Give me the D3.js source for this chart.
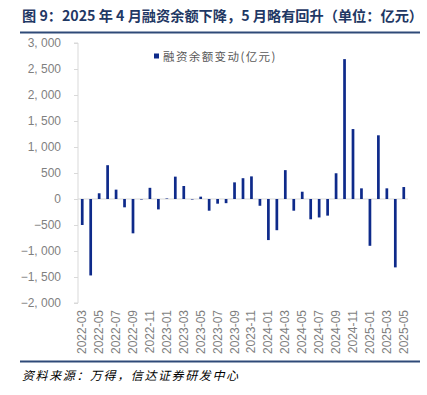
<!DOCTYPE html>
<html><head><meta charset="utf-8">
<script src="https://cdn.jsdelivr.net/npm/d3@7"></script>
<style>
body{margin:0;background:#fff;}
svg{display:block;}
</style></head>
<body>
<svg id="c" width="427" height="395"></svg>
<script>
const months = ["2022-03","2022-04","2022-05","2022-06","2022-07","2022-08","2022-09","2022-10","2022-11","2022-12",
"2023-01","2023-02","2023-03","2023-04","2023-05","2023-06","2023-07","2023-08","2023-09","2023-10","2023-11","2023-12",
"2024-01","2024-02","2024-03","2024-04","2024-05","2024-06","2024-07","2024-08","2024-09","2024-10","2024-11","2024-12",
"2025-01","2025-02","2025-03","2025-04","2025-05"];
const values = [-500,-1470,110,650,180,-160,-660,-10,215,-200,
10,430,250,-10,45,-225,-90,-80,320,400,435,-130,
-790,-600,555,-225,140,-390,-355,-320,495,2690,1345,205,
-900,1225,205,-1315,230];
const yTicks = [-2000,-1500,-1000,-500,0,500,1000,1500,2000,2500,3000];
const xTickLabels = months.filter((m,i)=>i%2===0);
const title = "图 9：2025 年 4 月融资余额下降，5 月略有回升（单位：亿元）";
const legendLabel = "融资余额变动(亿元)";
const source = "资料来源：万得，信达证券研发中心";

const svg = d3.select("#c");
const L = 78, R = 408, T = 43, B = 303;
const x = d3.scaleBand().domain(months).range([L, R]).paddingInner(0.68).paddingOuter(0.34);
const y = d3.scaleLinear().domain([-2000, 3000]).range([B, T]);

// title
svg.append("text").attr("x", 22).attr("y", 21)
  .attr("font-family", "'Noto Sans CJK SC', sans-serif").attr("font-weight", "bold")
  .attr("font-size", 14.2).attr("fill", "#1F3864").text(title);
svg.append("line").attr("x1", 20).attr("x2", 420).attr("y1", 32.5).attr("y2", 32.5)
  .attr("stroke", "#2F4A78").attr("stroke-width", 2);

// zero line
svg.append("line").attr("x1", L).attr("x2", R).attr("y1", y(0)).attr("y2", y(0))
  .attr("stroke", "#D9D9D9").attr("stroke-width", 1);

// y axis
const fmt = d3.format(",");
const yAxis = d3.axisLeft(y).tickValues(yTicks).tickSize(4).tickPadding(13)
  .tickFormat(d => (d < 0 ? "\u2212" : "") + fmt(Math.abs(d)).replace(",", ", "));
const gy = svg.append("g").attr("transform", `translate(${L},0)`).call(yAxis);
gy.select(".domain").attr("stroke", "#D9D9D9").attr("d", `M-4,${T}H0V${B}H-4`);
gy.selectAll(".tick line").attr("stroke", "#D9D9D9");
gy.selectAll("text").attr("font-family", "'Liberation Sans', Arial, sans-serif").attr("font-size", 12).attr("fill", "#7F7F7F");

// bars
svg.append("g").selectAll("rect").data(values).join("rect")
  .attr("x", (d,i) => x(months[i]))
  .attr("width", x.bandwidth())
  .attr("y", d => y(Math.max(0, d)))
  .attr("height", d => Math.abs(y(d) - y(0)))
  .attr("fill", "#0E2A8A");

// x axis labels
const gx = svg.append("g");
gx.selectAll("text").data(xTickLabels).join("text")
  .attr("transform", d => `translate(${x(d) + x.bandwidth()/2 + 4},310) rotate(-90)`)
  .attr("text-anchor", "end")
  .attr("font-family", "'Liberation Sans', Arial, sans-serif").attr("font-size", 12).attr("fill", "#7F7F7F")
  .text(d => d);

// legend
svg.append("rect").attr("x", 154).attr("y", 53.5).attr("width", 5).attr("height", 5).attr("fill", "#0E2A8A");
svg.append("text").attr("x", 163).attr("y", 61).attr("font-family", "'Noto Sans CJK SC', sans-serif")
  .attr("font-size", 11.5).attr("letter-spacing", 1.4).attr("fill", "#595959").text(legendLabel);

// bottom line and source
svg.append("line").attr("x1", 20).attr("x2", 420).attr("y1", 361.5).attr("y2", 361.5)
  .attr("stroke", "#2F4A78").attr("stroke-width", 2);
svg.append("text").attr("x", 22).attr("y", 380).attr("font-family", "'Noto Sans CJK SC', sans-serif")
  .attr("font-style", "italic").attr("font-size", 12).attr("letter-spacing", 1.6).attr("fill", "#000").text(source);
</script>
</body></html>
